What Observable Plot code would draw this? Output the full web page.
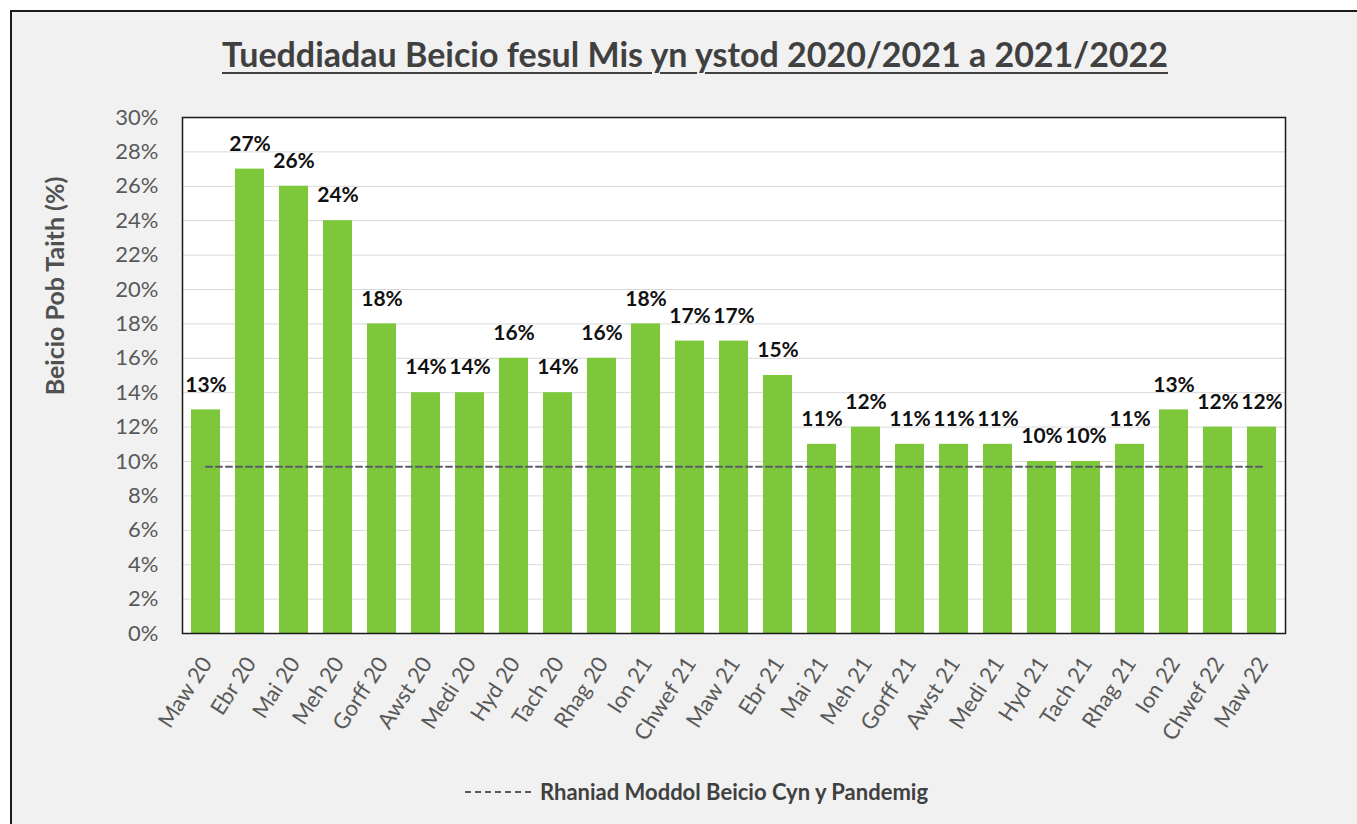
<!DOCTYPE html>
<html>
<head>
<meta charset="utf-8">
<script src="https://cdn.jsdelivr.net/npm/d3@7"></script>
<script src="https://cdn.jsdelivr.net/npm/@observablehq/plot@0.6"></script>
<style>
  html, body { margin: 0; padding: 0; background: #ffffff; }
  body { width: 1357px; height: 824px; overflow: hidden; position: relative; font-family: Lato, "DejaVu Sans", sans-serif; }
  #frame { position: absolute; left: 10px; top: 10px; width: 1400px; height: 900px; border-left: 2px solid #1a1a1a; border-top: 2px solid #1a1a1a; background: #f1f1f1; }
  #title { position: absolute; left: 0; width: 1390px; top: 33px; text-align: center; font-weight: 700; font-size: 34px; color: #404040; text-decoration: underline; text-decoration-thickness: 2px; text-underline-offset: 5px; }
  #ylabel { position: absolute; left: 54px; top: 286px; transform: translate(-50%, -50%) rotate(-90deg); white-space: nowrap; font-weight: 700; font-size: 25px; color: #505050; }
  #chart { position: absolute; left: 0; top: 95px; }
  #legendinner { position: absolute; left: 464px; top: 778px; display: flex; align-items: center; }
  #legendinner span { font-weight: 700; font-size: 22px; color: #404040; margin-left: 8px; }
</style>
</head>
<body>
<div id="frame"></div>
<div id="title">Tueddiadau Beicio fesul Mis yn ystod 2020/2021 a 2021/2022</div>
<div id="ylabel">Beicio Pob Taith (%)</div>
<div id="chart"></div>
<div id="legendinner"><svg width="68" height="10"><line x1="1" x2="67" y1="5" y2="5" stroke="#595959" stroke-width="2" stroke-dasharray="6,4"></line></svg><span>Rhaniad Moddol Beicio Cyn y Pandemig</span></div>
<script>
const months = ["Maw 20","Ebr 20","Mai 20","Meh 20","Gorff 20","Awst 20","Medi 20","Hyd 20","Tach 20","Rhag 20","Ion 21","Chwef 21","Maw 21","Ebr 21","Mai 21","Meh 21","Gorff 21","Awst 21","Medi 21","Hyd 21","Tach 21","Rhag 21","Ion 22","Chwef 22","Maw 22"];
const cyclingShare = [13,27,26,24,18,14,14,16,14,16,18,17,17,15,11,12,11,11,11,10,10,11,13,12,12];
const preCovidShare = 9.7;
const yTicks = [0,2,4,6,8,10,12,14,16,18,20,22,24,26,28,30];

const rows = months.map((m, i) => ({month: m, value: cyclingShare[i]}));
const baselineRows = months.map(m => ({month: m, value: preCovidShare}));

const chart = Plot.plot({
  width: 1357,
  height: 665,
  marginLeft: 182,
  marginRight: 72,
  marginTop: 22,
  marginBottom: 127,
  style: {background: "transparent", fontFamily: "Lato, sans-serif", overflow: "visible"},
  x: {domain: months, paddingInner: 0.33, paddingOuter: 0.165, label: null},
  y: {domain: [0, 30], label: null},
  marks: [
    Plot.frame({fill: "#ffffff", stroke: "none"}),
    Plot.gridY(yTicks, {stroke: "#d9d9d9", strokeOpacity: 1, strokeWidth: 1}),
    Plot.barY(rows, {x: "month", y: "value", fill: "#7dc73b"}),
    Plot.lineY(baselineRows, {x: "month", y: "value", stroke: "#5b5b6b", strokeWidth: 2, strokeDasharray: "6,4"}),
    Plot.text(rows, {x: "month", y: "value", text: d => d.value + "%", dy: -25, fontWeight: 700, fontSize: 21, fill: "#111111"}),
    Plot.axisY(yTicks, {tickSize: 0, tickPadding: 24, tickFormat: d => d + "%", fontSize: 22, color: "#595959"}),
    Plot.axisX({tickSize: 0, tickRotate: -57, tickPadding: 26, dx: 1, fontSize: 22, color: "#595959"}),
    Plot.frame({stroke: "#1a1a1a", strokeWidth: 1.5})
  ]
});
document.getElementById("chart").appendChild(chart);
</script>
</body>
</html>
